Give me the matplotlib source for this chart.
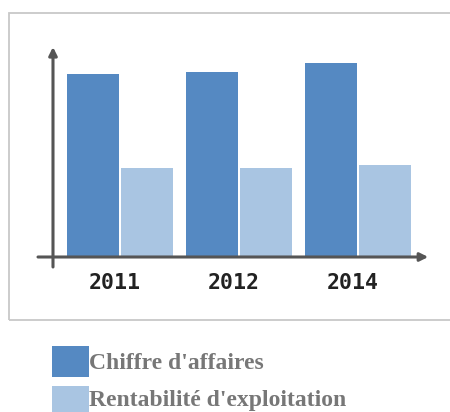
import matplotlib.pyplot as plt
import matplotlib.patches as mpatches
import numpy as np

# chart data (heights, arbitrary units)
years = ["2011", "2012", "2014"]
chiffre_affaires = [183, 185, 194]
rentabilite = [89, 89, 92]
legend_labels = ["Chiffre d'affaires", "Rentabilité d'exploitation"]

DARK = "#5589c2"
LIGHT = "#a9c5e2"
AXIS = "#555555"
TEXT_GREY = "#777777"

W, H = 450, 412
fig = plt.figure(figsize=(W / 100, H / 100), dpi=100)
fig.patch.set_facecolor("white")

# light grey frame round the chart, runs off the right edge
frame = mpatches.Rectangle((9 / W, 1 - 320 / H), 520 / W, (320 - 13) / H,
                           transform=fig.transFigure, fill=False,
                           edgecolor="#c8c8c8", linewidth=1.3)
fig.patches.append(frame)

ax = fig.add_axes([38 / W, 1 - 267 / H, (430 - 38) / W, (267 - 48) / H])
ax.set_xlim(-0.689, 2.605)
ax.set_ylim(-10, 209)
ax.axis("off")

x = np.arange(len(years))
off = 0.227
width = 0.43
ax.bar(x - off, chiffre_affaires, width, color=DARK, zorder=2)
ax.bar(x + off, rentabilite, width, color=LIGHT, zorder=2)

# axes drawn by hand with arrow heads
ax.annotate("", xy=(-0.563, 210), xytext=(-0.563, -10),
            arrowprops=dict(arrowstyle="-|>", color=AXIS, lw=2.2,
                            mutation_scale=12, shrinkA=0, shrinkB=0),
            annotation_clip=False, zorder=3)
ax.annotate("", xy=(2.59, 0), xytext=(-0.689, 0),
            arrowprops=dict(arrowstyle="-|>", color=AXIS, lw=2.2,
                            mutation_scale=12, shrinkA=0, shrinkB=0),
            annotation_clip=False, zorder=3)

for i, yr in enumerate(years):
    ax.text(i - 0.04, -26, yr, ha="center", va="center",
            fontsize=15.5, fontweight="bold", family="DejaVu Sans Mono",
            color="#222222")

# legend below the frame
for k, (lab, col) in enumerate(zip(legend_labels, [DARK, LIGHT])):
    y0 = 346 + k * 40
    sw = mpatches.Rectangle((52 / W, 1 - (y0 + 31) / H), 37 / W, 31 / H,
                            transform=fig.transFigure, facecolor=col,
                            edgecolor="none")
    fig.patches.append(sw)
    fig.text(89 / W, 1 - (369 + k * 37) / H, lab, ha="left", va="baseline",
             fontsize=17, fontweight="bold", family="Liberation Serif",
             color=TEXT_GREY)

fig.savefig("out.png", dpi=100)
